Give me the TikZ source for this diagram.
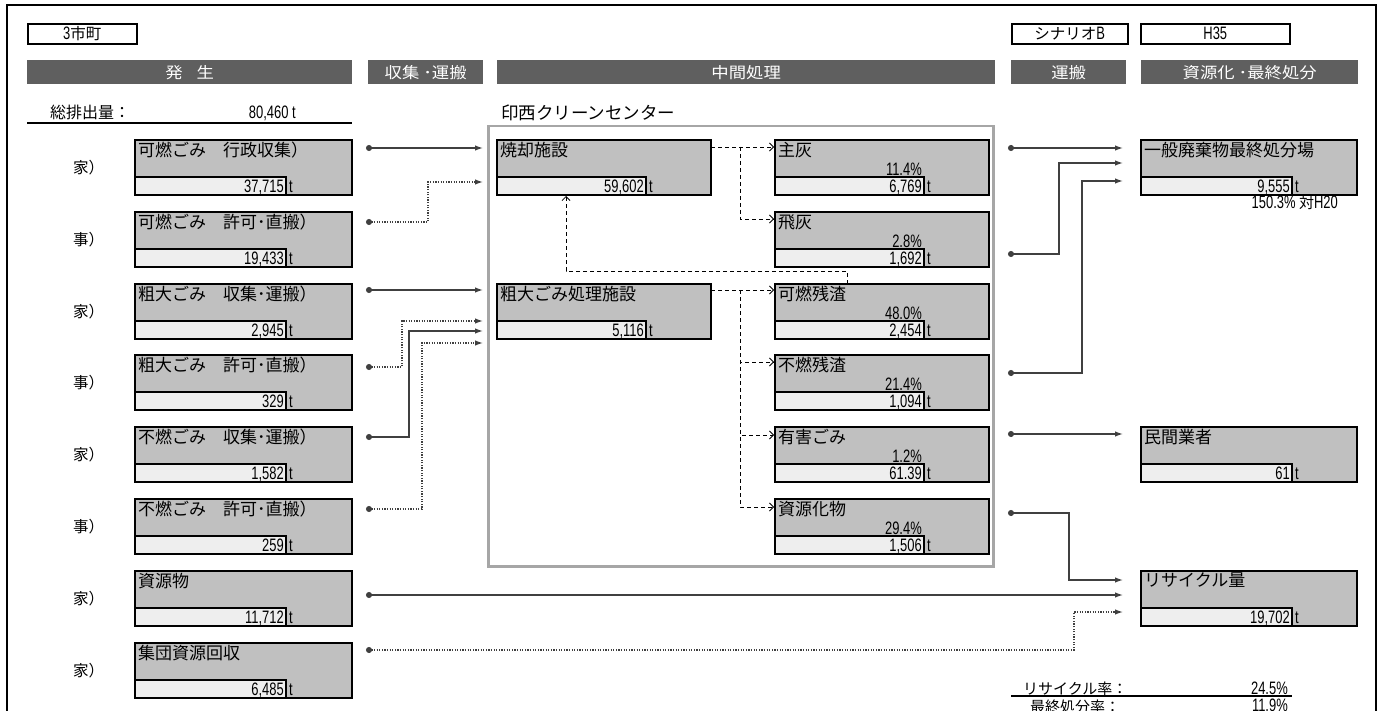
\documentclass[tikz,border=0pt]{standalone}
\usepackage{fontspec}
\setmainfont{Noto Sans CJK JP}
\newfontfamily\numfont[FakeStretch=0.72]{Liberation Sans}
\newfontfamily\widefont[FakeStretch=1.12]{Noto Sans CJK JP}
\usetikzlibrary{arrows.meta,calc}
\definecolor{hdr}{HTML}{5F5F5F}
\definecolor{boxg}{HTML}{C0C0C0}
\definecolor{innerg}{HTML}{EEEEEE}
\definecolor{connc}{HTML}{404040}
\definecolor{frameg}{HTML}{A6A6A6}
\tikzset{
  gbox/.style={draw=black, line width=1.8pt, fill=boxg, minimum height=55pt, anchor=north west, inner sep=0pt, outer sep=0pt},
  ibox/.style={draw=black, line width=1.8pt, fill=innerg, minimum height=18pt, anchor=south west, inner sep=0pt, outer sep=0pt},
  lbl/.style={anchor=north west, inner sep=0pt, font=\fontsize{17}{18}\selectfont},
  rowlbl/.style={anchor=west, inner sep=0pt, font=\fontsize{15.5}{17}\selectfont},
  numtxt/.style={inner sep=0pt, font=\numfont\fontsize{18}{18}\selectfont},
  hbar/.style={fill=hdr, text=white, minimum height=24pt, anchor=north west, inner sep=0pt, font=\widefont\fontsize{15.5}{17}\selectfont},
  tbox/.style={draw=black, line width=1.6pt, minimum height=20pt, anchor=north west, inner sep=0pt, font=\fontsize{15.5}{17}\selectfont},
  conn/.style={draw=connc, line width=1.3pt, {Circle[length=6pt]}-{Latex[length=8pt,width=5.5pt]}},
  dconn/.style={conn, dash pattern=on 1.3pt off 1.3pt},
  dashconn/.style={draw=black, line width=0.8pt, dash pattern=on 4pt off 3pt, -{Straight Barb[length=4pt,width=8pt]}},
}
% #1 inner width, #2 name, #3 x, #4 y, #5 width, #6 label, #7 value
\newcommand\wbox[7][151pt]{%
  \node[gbox, minimum width=#5] (#2) at (#3,#4) {};
  \node[lbl] at ([xshift=3pt,yshift=-2pt]#2.north west) {#6};
  \node[ibox, minimum width=#1] (#2v) at (#2.south west) {};
  \node[numtxt, anchor=base east] at ([xshift=-2pt,yshift=2.5pt]#2v.south east) {#7};
  \node[numtxt, anchor=base west] at ([xshift=3pt,yshift=2.5pt]#2v.south east) {t};
}
\newcommand\pctlbl[2]{%
  \node[numtxt, anchor=base east] at ([xshift=-2pt,yshift=1.5pt]#1v.north east) {#2};
}
\begin{document}
\begin{tikzpicture}[x=1pt,y=-1pt]
\useasboundingbox (0,0) rectangle (1386,711);
\fill[white] (0,0) rectangle (1386,711);
% outer frame
\draw[line width=2pt] (7,730) -- (7,5) -- (1376,5) -- (1376,730);

% top boxes
\node[tbox, minimum width=109pt] (town) at (27,23) {{\numfont\fontsize{18}{18}\selectfont 3}市町};
\node[tbox, minimum width=116pt] (scen) at (1011,23) {シナリオ{\numfont\fontsize{18}{18}\selectfont B}};
\node[tbox, minimum width=149pt] (year) at (1140,23) {\numfont\fontsize{18}{18}\selectfont H35};

% header bars
\node[hbar, minimum width=325pt] (h1) at (27,60) {発\hspace{0.9em}生};
\node[hbar, minimum width=115pt] (h2) at (368,60) {収集 ･運搬};
\node[hbar, minimum width=498pt] (h3) at (497,60) {中間処理};
\node[hbar, minimum width=115pt] (h4) at (1011,60) {運搬};
\node[hbar, minimum width=217pt] (h5) at (1141,60) {資源化 ･最終処分};

% total
\node[anchor=base west, inner sep=0pt, font=\fontsize{16}{17}\selectfont] (tot) at (50,119) {総排出量：};
\node[numtxt, anchor=base east] (totv) at (296,119) {80,460 t};
\draw[line width=1.5pt] (27,123) -- (352,123);

% left column
\wbox{L1}{135}{140}{217pt}{可燃ごみ　行政収集）}{37,715}
\wbox{L2}{135}{212}{217pt}{可燃ごみ　許可･直搬）}{19,433}
\wbox{L3}{135}{284}{217pt}{粗大ごみ　収集･運搬）}{2,945}
\wbox{L4}{135}{355}{217pt}{粗大ごみ　許可･直搬）}{329}
\wbox{L5}{135}{427}{217pt}{不燃ごみ　収集･運搬）}{1,582}
\wbox{L6}{135}{499}{217pt}{不燃ごみ　許可･直搬）}{259}
\wbox{L7}{135}{571}{217pt}{資源物}{11,712}
\wbox{L8}{135}{643}{217pt}{集団資源回収}{6,485}

\foreach \n/\t in {L1/家）,L2/事）,L3/家）,L4/事）,L5/家）,L6/事）,L7/家）,L8/家）}
  \node[rowlbl] at ($(\n.west)+(-62,0)$) {\t};

% centre frame
\node[draw=frameg, line width=2.5pt, minimum width=505pt, minimum height=440pt, anchor=north west, inner sep=0pt] (icc) at (487,125) {};
\node[anchor=south west, inner sep=0pt, font=\fontsize{17.5}{19}\selectfont] (iccname) at ($(icc.north west)+(14,-4)$) {印西クリーンセンター};

\wbox[149pt]{C1}{497}{140}{214pt}{焼却施設}{59,602}
\wbox[149pt]{C2}{497}{284}{214pt}{粗大ごみ処理施設}{5,116}

\wbox[149pt]{R1}{775}{140}{214pt}{主灰}{6,769}
\wbox[149pt]{R2}{775}{212}{214pt}{飛灰}{1,692}
\wbox[149pt]{R3}{775}{284}{214pt}{可燃残渣}{2,454}
\wbox[149pt]{R4}{775}{355}{214pt}{不燃残渣}{1,094}
\wbox[149pt]{R5}{775}{427}{214pt}{有害ごみ}{61.39}
\wbox[149pt]{R6}{775}{499}{214pt}{資源化物}{1,506}
\pctlbl{R1}{11.4\%}
\pctlbl{R2}{2.8\%}
\pctlbl{R3}{48.0\%}
\pctlbl{R4}{21.4\%}
\pctlbl{R5}{1.2\%}
\pctlbl{R6}{29.4\%}

% final column
\wbox{F1}{1141}{140}{216pt}{一般廃棄物最終処分場}{9,555}
\wbox{F2}{1141}{427}{216pt}{民間業者}{61}
\wbox{F3}{1141}{571}{216pt}{リサイクル量}{19,702}
\node[anchor=base east, inner sep=0pt, font=\fontsize{15}{16}\selectfont] (ratio) at ($(F1.south east)+(-19,14)$) {{\numfont\fontsize{18}{18}\selectfont 150.3\%} 対{\numfont\fontsize{18}{18}\selectfont H20}};

% left connectors
\draw[conn]  ($(L1.north east)+(14,8)$) -- ($(C1.north west)+(-14,8)$);
\draw[dconn] ($(L2.north east)+(14,10)$) -| ($(C1.north west)+(-69,42)$) -- ($(C1.north west)+(-14,42)$);
\draw[conn]  ($(L3.north east)+(14,6)$) -- ($(C2.north west)+(-14,6)$);
\draw[dconn] ($(L4.north east)+(14,12)$) -| ($(C2.north west)+(-95,37)$) -- ($(C2.north west)+(-14,37)$);
\draw[conn]  ($(L5.north east)+(14,10)$) -| ($(C2.north west)+(-88,47)$) -- ($(C2.north west)+(-14,47)$);
\draw[dconn] ($(L6.north east)+(14,10)$) -| ($(C2.north west)+(-75,59)$) -- ($(C2.north west)+(-14,59)$);
\draw[conn]  ($(L7.north east)+(14,24)$) -- ($(F3.north west)+(-18,24)$);
\draw[dconn] ($(L8.north east)+(14,7)$) -| ($(F3.north west)+(-67,41)$) -- ($(F3.north west)+(-18,41)$);

% centre dashed connectors
\draw[dashconn] ($(C1.north east)+(0,7)$) -- ($(R1.north west)+(-1,7)$);
\draw[dashconn] ($(C1.north east)+(29,7)$) |- ($(R2.north west)+(-1,7)$);
\draw[dashconn] ($(R3.north west)+(72,0)$) -- ++(0,-13) -| ($(C1.south west)+(69,1)$);
\draw[dashconn] ($(C2.north east)+(0,6)$) -- ($(R3.north west)+(-1,6)$);
\draw[dashconn] ($(C2.north east)+(29,6)$) |- ($(R4.north west)+(-1,7)$);
\draw[dashconn] ($(C2.north east)+(29,6)$) |- ($(R5.north west)+(-1,8)$);
\draw[dashconn] ($(C2.north east)+(29,6)$) |- ($(R6.north west)+(-1,8)$);

% right connectors
\draw[conn] ($(R1.north east)+(19,8)$) -- ($(F1.north west)+(-18,8)$);
\draw[conn] ($(R2.north east)+(19,42)$) -| ($(F1.north west)+(-82,23)$) -- ($(F1.north west)+(-18,23)$);
\draw[conn] ($(R4.north east)+(19,18)$) -| ($(F1.north west)+(-59,41)$) -- ($(F1.north west)+(-18,41)$);
\draw[conn] ($(R5.north east)+(19,7)$) -- ($(F2.north west)+(-18,7)$);
\draw[conn] ($(R6.north east)+(19,14)$) -| ($(F3.north west)+(-72,9)$) -- ($(F3.north west)+(-18,9)$);

% rates
\node[anchor=base west, inner sep=0pt, font=\fontsize{15}{16}\selectfont] (rr) at (1023,694) {リサイクル率：};
\node[numtxt, anchor=base east] (rrv) at (1288,694) {24.5\%};
\draw[line width=1.5pt] (1011,696) -- (1292,696);
\node[anchor=base west, inner sep=0pt, font=\fontsize{15}{16}\selectfont] (fr) at (1030,712) {最終処分率：};
\node[numtxt, anchor=base east] (frv) at (1288,711) {11.9\%};
\end{tikzpicture}
\end{document}
